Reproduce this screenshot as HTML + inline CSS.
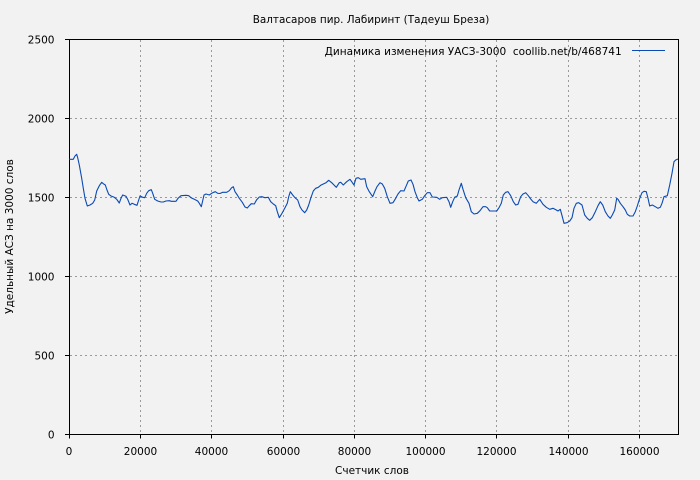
<!DOCTYPE html>
<html>
<head>
<meta charset="utf-8">
<style>
html,body{margin:0;padding:0;background:#f2f2f2;}
svg{display:block;}
text{font-family:"DejaVu Sans","Liberation Sans",sans-serif;font-size:10.5px;fill:#000;}
</style>
</head>
<body>
<svg width="700" height="480" viewBox="0 0 700 480" xmlns="http://www.w3.org/2000/svg">
<rect x="0" y="0" width="700" height="480" fill="#f2f2f2"/>
<!-- grid -->
<g stroke="#9a9a9a" stroke-width="1" stroke-dasharray="2,3" fill="none">
<line x1="140.5" y1="40" x2="140.5" y2="434"/>
<line x1="211.5" y1="40" x2="211.5" y2="434"/>
<line x1="283.5" y1="40" x2="283.5" y2="434"/>
<line x1="354.5" y1="40" x2="354.5" y2="434"/>
<line x1="425.5" y1="40" x2="425.5" y2="434"/>
<line x1="496.5" y1="40" x2="496.5" y2="434"/>
<line x1="568.5" y1="40" x2="568.5" y2="434"/>
<line x1="639.5" y1="40" x2="639.5" y2="434"/>
<line x1="70" y1="355.5" x2="678" y2="355.5"/>
<line x1="70" y1="276.5" x2="678" y2="276.5"/>
<line x1="70" y1="197.5" x2="678" y2="197.5"/>
<line x1="70" y1="118.5" x2="678" y2="118.5"/>
</g>
<!-- frame -->
<rect x="69.5" y="39.5" width="609" height="395" fill="none" stroke="#000" stroke-width="1"/>
<!-- ticks -->
<g stroke="#000" stroke-width="1">
<line x1="65" y1="434.5" x2="69.5" y2="434.5"/>
<line x1="65" y1="355.5" x2="69.5" y2="355.5"/>
<line x1="65" y1="276.5" x2="69.5" y2="276.5"/>
<line x1="65" y1="197.5" x2="69.5" y2="197.5"/>
<line x1="65" y1="118.5" x2="69.5" y2="118.5"/>
<line x1="65" y1="39.5" x2="69.5" y2="39.5"/>
<line x1="69.5" y1="434.5" x2="69.5" y2="438.5"/>
<line x1="140.5" y1="434.5" x2="140.5" y2="438.5"/>
<line x1="211.5" y1="434.5" x2="211.5" y2="438.5"/>
<line x1="283.5" y1="434.5" x2="283.5" y2="438.5"/>
<line x1="354.5" y1="434.5" x2="354.5" y2="438.5"/>
<line x1="425.5" y1="434.5" x2="425.5" y2="438.5"/>
<line x1="496.5" y1="434.5" x2="496.5" y2="438.5"/>
<line x1="568.5" y1="434.5" x2="568.5" y2="438.5"/>
<line x1="639.5" y1="434.5" x2="639.5" y2="438.5"/>
</g>
<!-- y tick labels -->
<g text-anchor="end">
<text x="54.5" y="438.5">0</text>
<text x="54.5" y="359.5">500</text>
<text x="54.5" y="280.5">1000</text>
<text x="54.5" y="201.5">1500</text>
<text x="54.5" y="122.5">2000</text>
<text x="54.5" y="43.5">2500</text>
</g>
<!-- x tick labels -->
<g text-anchor="middle">
<text x="69" y="455">0</text>
<text x="140.5" y="455">20000</text>
<text x="211.5" y="455">40000</text>
<text x="283.5" y="455">60000</text>
<text x="354.5" y="455">80000</text>
<text x="425.5" y="455">100000</text>
<text x="496.5" y="455">120000</text>
<text x="568.5" y="455">140000</text>
<text x="639.5" y="455">160000</text>
</g>
<!-- titles -->
<text x="252.7" y="23" textLength="236.6" lengthAdjust="spacingAndGlyphs">Валтасаров пир. Лабиринт (Тадеуш Бреза)</text>
<text x="372" y="474" text-anchor="middle">Счетчик слов</text>
<text transform="translate(13,236.5) rotate(-90)" text-anchor="middle">Удельный АСЗ на 3000 слов</text>
<!-- legend -->
<text x="324.7" y="55" textLength="297" lengthAdjust="spacingAndGlyphs">Динамика изменения УАСЗ-3000&#160; coollib.net/b/468741</text>
<line x1="632" y1="50.5" x2="665" y2="50.5" stroke="#0a4ab4" stroke-width="1.1"/>
<!-- series -->
<polyline fill="none" stroke="#0a4ab4" stroke-width="1.1" stroke-linejoin="round" points="69.3,159.3 73.3,159.3 75,156 76.7,154.3 77.7,157.7 79.3,165 81.7,178.3 83.3,188.3 85,198.3 87.3,206 90,205 92.7,203.3 94.7,200 96.7,191 99.3,185.7 101.7,182.3 103.7,184 105.3,185 107,190 108.7,194.3 111,196 114.3,197.3 116.7,199.3 119.3,203 121,198.3 122.7,195 126,196.3 127.7,199.3 130,205 132,203.3 134.3,204.3 137,205.3 138.7,200 140,196 142.7,197.3 144.7,197.7 146.7,193.3 148.7,190.7 151.3,189.7 152.7,193.3 154.7,199.3 157.7,201 161,202 163.3,202 166,201 169.3,200.7 171.3,201.3 176,201.3 178,198.3 181,195.7 186,195.3 188.7,195.7 191,197.7 194.3,199.3 197.7,201 199.3,203.3 201.3,206.7 202.7,200.7 204,195 206,194 209.3,195 211.7,193.3 213.7,192.3 215.3,191.7 217.7,193.3 220,193.5 222.7,192.3 226.7,192.3 229.3,190.7 231.7,187.7 233.3,186.7 235,191.7 237.3,195 239.3,198.3 242.3,202.3 245,207 247.3,208 249.3,205.7 251.3,203.7 254.3,204 256.7,199.7 259.3,197 261.7,196.7 265,197.7 268.3,197.3 270.7,201.7 273.3,204 275.7,205.7 277.3,211.7 279.3,217.7 282,213.3 285,207.7 287.3,203.3 288.7,196.7 290.3,191.7 292.7,195 295,197.7 297.7,200 300,206.7 302,210 304.7,212.7 306.7,210 308.7,205 310.7,198.3 313.3,191 315.7,188.3 318.3,187.3 320.7,185.3 323.3,184 326,182.7 328.7,180.3 331.7,182.7 334,185 336.3,187.3 339.3,182.7 340.7,182.3 343.3,185 346.7,181.7 350,179.3 351.7,181.7 354,185 356,178.3 358.3,177.7 360.7,179.3 365,178.7 366.7,186.7 369.3,191.7 372.7,196.7 375,191 377,186.7 380,182.7 382.3,184 384.7,188.3 387.3,196.7 390,203.3 393,202.7 395.7,198.3 398,194 400.7,190.7 404,191 406.3,185.7 408.3,181 411,180 413,184.3 415,191.7 417.3,197.7 419,201 422.3,199.3 424.7,195.7 427.3,192.7 430,192.7 432.3,197 436.7,197.3 439.7,199.3 442.3,197.7 446.7,197.3 449,201.7 450.7,207.3 452.7,201.7 454.7,197.3 457.3,196 459,190 461.3,183.3 463,189.3 465.7,197.7 469,203.3 471.3,211.7 474,214 477.3,213.3 480,210.7 483,206.7 485.7,206.7 487.3,207.7 489.7,211 494,211 496.7,211 499,207.7 501.3,203.3 503.3,195 505.7,192.3 508,191.7 510.7,195.7 513.3,201.7 515.7,205 518,204.3 520.7,196.7 523,194 525.7,192.7 528.3,195.7 530.7,199 533,201.7 536.3,203.3 539.7,199.3 543,204.3 546.3,207.3 549.7,209.3 553,208.3 556.3,210 558,211 560.3,209.3 562.3,216.7 564,223.3 567,222.7 569.7,221 572,217.7 574,208.3 576.3,203.3 578.7,202.7 582,205 584.7,215 587.3,218.3 589.7,220.3 592.3,217.7 595.3,211.7 598,205.7 600.3,201.7 602.7,205 605.3,211.7 608,216 610.3,218.3 612.3,215 614.7,210 616.7,198.3 618,199.3 620.3,203.3 623,206.7 625.3,210 627.3,214.3 629.7,216 633,216 635.3,211.7 637.3,206 639.7,198.3 642,192.7 644,191.3 646.3,191.7 648,198.3 649.7,206 652.3,205 655.3,206.7 658,208.3 660.3,207.3 662,203.3 664,196.7 667.3,195.7 669.7,185 672,173.3 674,161.7 675.7,160 678,159"/>
</svg>
</body>
</html>
